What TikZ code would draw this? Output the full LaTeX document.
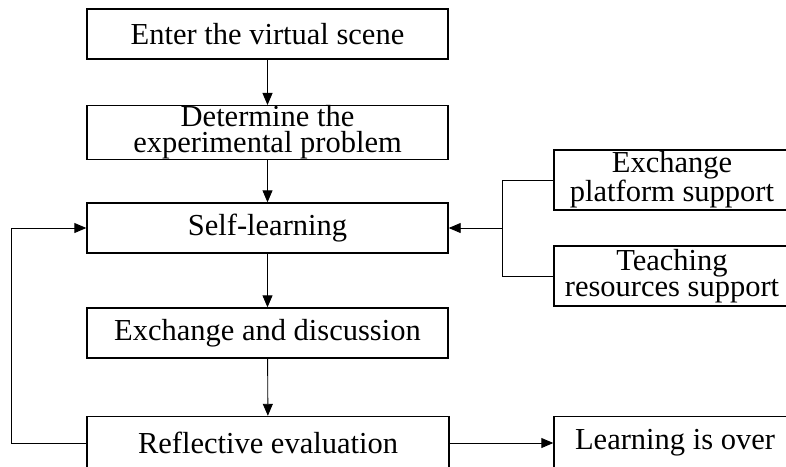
\documentclass[tikz,border=0pt]{standalone}
\usepackage{fontspec}
\setmainfont{Liberation Serif}
\usetikzlibrary{arrows.meta}
\begin{document}
\begin{tikzpicture}[x=1pt,y=-1pt,
  box/.style={draw,line width=1.4pt,inner sep=0pt,align=center,font=\fontsize{30.5}{26}\selectfont},
  conn/.style={line width=0.9pt},
  arr/.style={conn,-{Triangle[length=12pt,width=10pt]}}]
\useasboundingbox (0,0) rectangle (786,466);
\clip (0,0) rectangle (786,466);
\node[box,minimum width=361pt,minimum height=50pt] (b1) at (267.5,34) {Enter the virtual scene};
\node[box,minimum width=361pt,minimum height=50pt] (b2) at (267.5,132.5) {Determine the\\experimental problem};
\node[box,minimum width=361pt,minimum height=50pt] (b3) at (267.5,228) {Self-learning};
\node[box,minimum width=361pt,minimum height=50pt] (b4) at (267.5,333) {Exchange and discussion};
\node[box,minimum width=362pt,minimum height=53pt] (b5) at (268,443) {Reflective evaluation};
\node[box,minimum width=236pt,minimum height=60pt] (e1) at (672,180) {Exchange\\platform support};
\node[box,minimum width=236pt,minimum height=60pt] (e2) at (672,276) {Teaching\\resources support};
\node[box,minimum width=242pt,minimum height=53pt] (lo) at (675,443) {Learning is over};
\coordinate (jn) at (502,228);
\draw[arr] (b1) -- (b2);
\draw[arr] (b2) -- (b3);
\draw[arr] (b3) -- (b4);
\draw[arr] (b4) -- (b5);
\draw[arr] (b5) -- (lo);
\draw[arr] (b5.west) -- ++(-75,0) |- (b3.west);
\draw[conn] (e1.west) -| (jn);
\draw[conn] (e2.west) -| (jn);
\draw[arr] (jn) -- (b3.east);
\end{tikzpicture}
\end{document}
